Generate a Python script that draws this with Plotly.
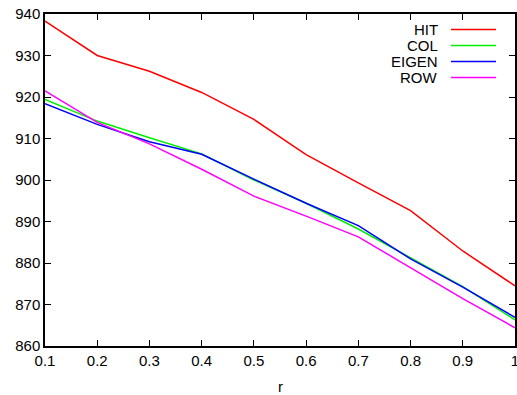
import plotly.graph_objects as go

r = [0.1, 0.2, 0.3, 0.4, 0.5, 0.6, 0.7, 0.8, 0.9, 1.0]
hit = [938.3, 930.0, 926.2, 921.1, 914.6, 906.1, 899.3, 892.6, 882.9, 874.5]
col = [919.4, 914.2, 910.2, 906.3, 900.0, 894.4, 888.2, 881.3, 874.3, 866.3]
eigen = [918.4, 913.4, 909.2, 906.2, 900.2, 894.4, 889.0, 881.0, 874.2, 866.9]
row = [921.5, 913.9, 908.7, 902.6, 896.1, 891.3, 886.3, 878.9, 871.4, 864.4]

names = ["HIT", "COL", "EIGEN", "ROW"]
colors = ["#ff0000", "#00ee00", "#0000ff", "#ff00ff"]
series = [hit, col, eigen, row]

xticks = [0.1, 0.2, 0.3, 0.4, 0.5, 0.6, 0.7, 0.8, 0.9, 1.0]
xticklabels = ["0.1", "0.2", "0.3", "0.4", "0.5", "0.6", "0.7", "0.8", "0.9", "1"]
yticks = [860, 870, 880, 890, 900, 910, 920, 930, 940]

FONT = "Liberation Sans, Arial, sans-serif"

fig = go.Figure()
for name, c, ys in zip(names, colors, series):
    fig.add_trace(go.Scatter(x=r, y=ys, mode="lines", name=name,
                             line=dict(color=c, width=1.5), showlegend=False))

# gnuplot-style legend: right-aligned text, then line sample
W, H = 517, 395
ml, mr, mt, mb = 45, 2, 14, 49
pw, ph = W - ml - mr, H - mt - mb
def px(x):
    return (x - ml) / pw
def py(y):
    return 1 - (y - mt) / ph

leg_y = [29.5, 45.5, 61.5, 77.5]
for name, c, yy in zip(names, colors, leg_y):
    fig.add_annotation(x=px(440), y=py(yy), xref="paper", yref="paper",
                       text=name, showarrow=False, xanchor="right", yanchor="middle",
                       font=dict(family=FONT, size=15, color="#000000"))
    fig.add_shape(type="line", xref="paper", yref="paper",
                  x0=px(451), x1=px(496), y0=py(yy), y1=py(yy),
                  line=dict(color=c, width=1.5))

# x-axis title
fig.add_annotation(x=px(280), y=py(386), xref="paper", yref="paper",
                   text="r", showarrow=False, xanchor="center", yanchor="middle",
                   font=dict(family=FONT, size=15, color="#000000"))

axis_common = dict(showline=True, linecolor="#000000", linewidth=1.5, mirror="ticks",
                   ticks="inside", ticklen=6, tickwidth=1, tickcolor="#000000",
                   showgrid=False, zeroline=False, automargin=False,
                   ticklabeloverflow="allow",
                   tickfont=dict(family=FONT, size=15, color="#000000"))

fig.update_layout(
    width=W, height=H,
    margin=dict(l=ml, r=mr, t=mt, b=mb),
    plot_bgcolor="white", paper_bgcolor="white",
    xaxis=dict(range=[0.1, 1.0], tickvals=xticks, ticktext=xticklabels, **axis_common),
    yaxis=dict(range=[860, 940], tickvals=yticks, **axis_common),
)

fig.write_html("out.html", config={"displayModeBar": False},
               post_script="document.body.style.margin='0';document.body.style.overflow='hidden';")
